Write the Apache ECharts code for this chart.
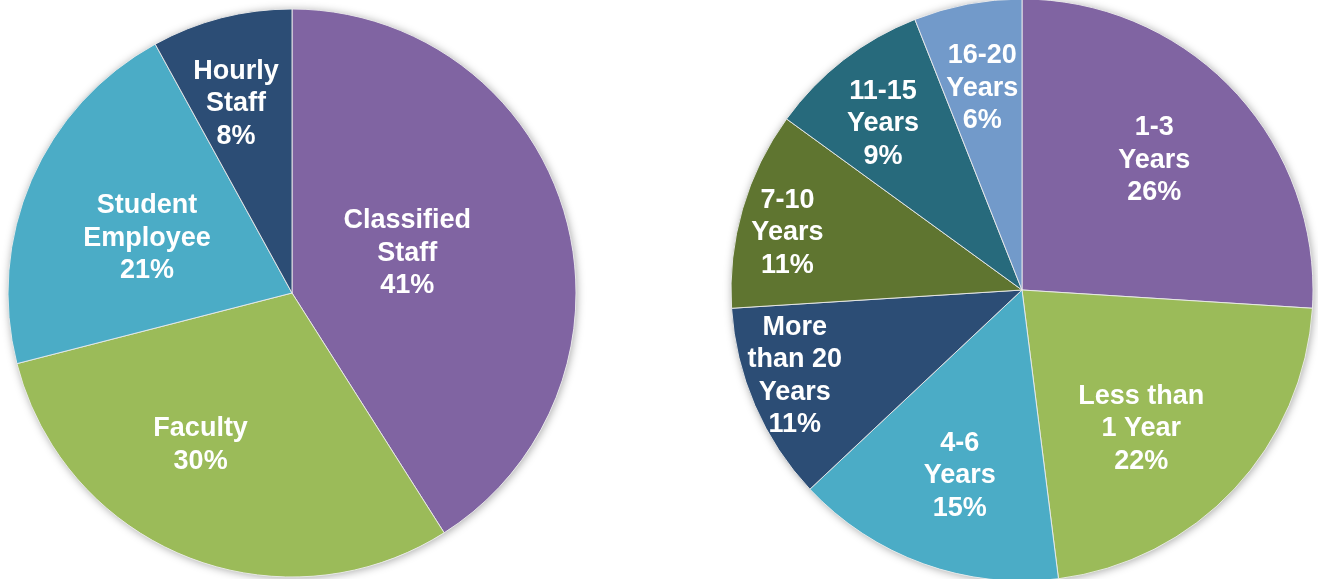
<!DOCTYPE html>
<html>
<head>
<meta charset="utf-8">
<title>Employee Type and Years of Service</title>
<script src="https://cdn.jsdelivr.net/npm/echarts@6/dist/echarts.min.js"></script>
<style>
  html, body { margin: 0; padding: 0; background: #ffffff; }
  #chart { width: 1318px; height: 579px; }
</style>
</head>
<body>
<div id="chart"></div>
<script>
// Employee type breakdown (percent)
const typeNames = ['Classified\nStaff', 'Faculty', 'Student\nEmployee', 'Hourly\nStaff'];
const typeValues = [41, 30, 21, 8];

// Years of service breakdown (percent)
const yearNames = ['1-3\nYears', 'Less than\n1 Year', '4-6\nYears', 'More\nthan 20\nYears', '7-10\nYears', '11-15\nYears', '16-20\nYears'];
const yearValues = [26, 22, 15, 11, 11, 9, 6];

// Slice colours
const typeColors = ['#8064A2', '#9BBB59', '#4BACC6', '#2C4D75'];
const yearColors = ['#8064A2', '#9BBB59', '#4BACC6', '#2C4D75', '#5F7530', '#276A7C', '#729ACA'];

// Nudges that move each inside label away from the default mid-radius spot
const typeLabelShift = [[-24, 1], [-38, 17], [-12, 3], [-20, -49]];
const yearLabelShift = [[24, -28], [11, 37], [-12, 46], [-91, 27], [-92, -16], [-48, -49], [-12, -56]];

const labelStyle = {
  show: true,
  position: 'inside',
  color: '#ffffff',
  fontFamily: '"Liberation Sans", Arial, sans-serif',
  fontWeight: 'bold',
  fontSize: 27,
  lineHeight: 32.5,
  formatter: p => p.name + '\n' + p.value + '%'
};

function backdrop(center, radius) {
  return {
    type: 'pie',
    center: center,
    radius: radius,
    silent: true,
    animation: false,
    z: 1,
    label: { show: false },
    labelLine: { show: false },
    itemStyle: {
      color: '#ffffff',
      shadowBlur: 9,
      shadowColor: 'rgba(0,0,0,0.35)',
      shadowOffsetX: 1,
      shadowOffsetY: 1
    },
    data: [{ value: 1 }]
  };
}

function slices(names, values, colors, shifts, center, radius) {
  return {
    type: 'pie',
    center: center,
    radius: radius,
    startAngle: 90,
    clockwise: true,
    animation: false,
    silent: true,
    z: 2,
    label: labelStyle,
    labelLine: { show: false },
    labelLayout: p => ({ dx: shifts[p.dataIndex][0], dy: shifts[p.dataIndex][1] }),
    itemStyle: { borderColor: 'rgba(235,235,235,0.9)', borderWidth: 1 },
    data: names.map((n, i) => ({ name: n, value: values[i], itemStyle: { color: colors[i] } }))
  };
}

const chart = echarts.init(document.getElementById('chart'), null, { renderer: 'canvas' });
chart.setOption({
  backgroundColor: '#ffffff',
  series: [
    backdrop([292, 293], 284),
    slices(typeNames, typeValues, typeColors, typeLabelShift, [292, 293], 284),
    backdrop([1022, 290], 291),
    slices(yearNames, yearValues, yearColors, yearLabelShift, [1022, 290], 291)
  ]
});
</script>
</body>
</html>
